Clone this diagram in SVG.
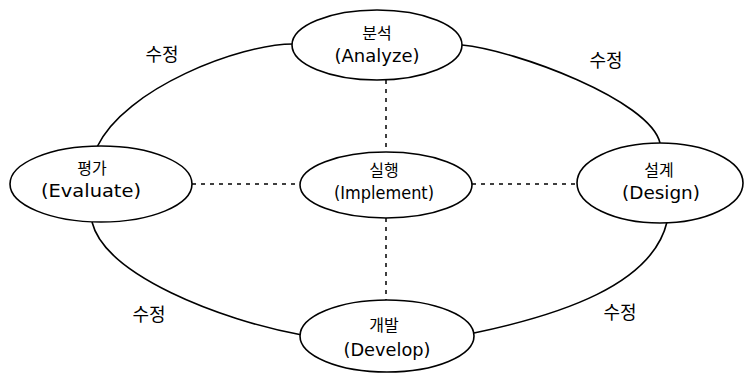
<svg xmlns="http://www.w3.org/2000/svg" width="748" height="376" viewBox="0 0 748 376">
<style>
.node ellipse{fill:#fff;stroke:#000;stroke-width:1.6}
.ko{font-family:"Noto Sans CJK KR","Noto Sans",sans-serif;font-size:16px;fill:#000;text-anchor:middle}
.en{font-family:"DejaVu Sans","Liberation Sans",sans-serif;font-size:17px;fill:#000;text-anchor:middle}
.lbl{font-family:"Noto Sans CJK KR","Noto Sans",sans-serif;font-size:18px;fill:#000;text-anchor:middle}
.arc{fill:none;stroke:#000;stroke-width:1.6}
.dot{fill:none;stroke:#000;stroke-width:1.5;stroke-dasharray:4 5}
</style>
<rect width="748" height="376" fill="#fff"/>
<g id="connectors">
<path class="arc" d="M293,44 C240,44 125,88 97,147"/>
<path class="arc" d="M462,45 C515,50 650,100 660,143"/>
<path class="arc" d="M92,222 C105,275 220,320 302,335"/>
<path class="arc" d="M667,222 C652,285 560,315 474,333"/>
<line class="dot" x1="386" y1="80" x2="386" y2="152"/>
<line class="dot" x1="192" y1="184" x2="300" y2="184"/>
<line class="dot" x1="472" y1="184" x2="577" y2="184"/>
<line class="dot" x1="386" y1="218" x2="386" y2="300"/>
<text class="lbl" x="162" y="61">수정</text>
<text class="lbl" x="606" y="67">수정</text>
<text class="lbl" x="149" y="321">수정</text>
<text class="lbl" x="620" y="319">수정</text>
</g>
<g id="analyze" class="node">
<ellipse cx="377" cy="45" rx="85" ry="35"/>
<text class="ko" x="377" y="39">분석</text>
<text class="en" x="377" y="62" textLength="85" lengthAdjust="spacingAndGlyphs">(Analyze)</text>
</g>
<g id="evaluate" class="node">
<ellipse cx="101" cy="184" rx="91" ry="38"/>
<text class="ko" x="92" y="174">평가</text>
<text class="en" x="91" y="197" textLength="100" lengthAdjust="spacingAndGlyphs">(Evaluate)</text>
</g>
<g id="implement" class="node">
<ellipse cx="386" cy="185" rx="86" ry="33"/>
<text class="ko" x="384" y="176">실행</text>
<text class="en" x="384" y="199" textLength="100" lengthAdjust="spacingAndGlyphs">(Implement)</text>
</g>
<g id="design" class="node">
<ellipse cx="660" cy="183" rx="83" ry="40"/>
<text class="ko" x="659" y="176">설계</text>
<text class="en" x="661" y="199" textLength="78" lengthAdjust="spacingAndGlyphs">(Design)</text>
</g>
<g id="develop" class="node">
<ellipse cx="387" cy="336" rx="87" ry="36"/>
<text class="ko" x="384" y="331">개발</text>
<text class="en" x="387" y="356" textLength="87" lengthAdjust="spacingAndGlyphs">(Develop)</text>
</g>
</svg>
